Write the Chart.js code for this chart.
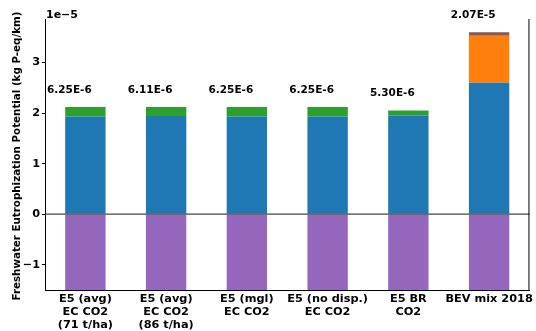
<!DOCTYPE html>
<html>
<head>
<meta charset="utf-8">
<script src="https://cdn.jsdelivr.net/npm/chart.js@4.4.0/dist/chart.umd.min.js"></script>
<style>
  html, body { margin: 0; padding: 0; background: #fff; }
  #wrap { width: 536px; height: 331px; position: relative; }
</style>
</head>
<body>
<div id="wrap"><canvas id="chart"></canvas></div>
<script>
// values in units of 1e-5 kg P-eq/km
const categories = [
  ['E5 (avg)', 'EC CO2', '(71 t/ha)'],
  ['E5 (avg)', 'EC CO2', '(86 t/ha)'],
  ['E5 (mgl)', 'EC CO2'],
  ['E5 (no disp.)', 'EC CO2'],
  ['E5 BR', 'CO2'],
  ['BEV mix 2018']
];
const blueVals = [1.93, 1.94, 1.93, 1.93, 1.95, 2.60];
const greenVals = [0.19, 0.18, 0.19, 0.19, 0.10, 0];
const orangeVals = [0, 0, 0, 0, 0, 0.93];
const brownVals = [0, 0, 0, 0, 0, 0.07];
const purpleVals = [-1.50, -1.53, -1.50, -1.50, -1.52, -1.53];
const netLabels = ['6.25E-6', '6.11E-6', '6.25E-6', '6.25E-6', '5.30E-6', '2.07E-5'];
const yTicks = [-1, 0, 1, 2, 3];

const FONT = "'DejaVu Sans', sans-serif";

const extras = {
  id: 'extras',
  afterDatasetsDraw(chart) {
    const ctx = chart.ctx;
    const a = chart.chartArea;
    const x = chart.scales.x;
    const y = chart.scales.y;
    ctx.save();
    // zero line
    const y0 = y.getPixelForValue(0);
    ctx.strokeStyle = '#444';
    ctx.lineWidth = 1.2;
    ctx.beginPath();
    ctx.moveTo(a.left, y0);
    ctx.lineTo(a.right, y0);
    ctx.stroke();
    // right spine
    ctx.strokeStyle = '#000';
    ctx.lineWidth = 1;
    ctx.beginPath();
    ctx.moveTo(a.right - 0.5, a.top);
    ctx.lineTo(a.right - 0.5, a.bottom);
    ctx.stroke();
    // net value labels
    ctx.fillStyle = '#000';
    ctx.font = 'bold 10.5px ' + FONT;
    ctx.textAlign = 'center';
    ctx.textBaseline = 'middle';
    netLabels.forEach((lab, i) => {
      const top = blueVals[i] + greenVals[i] + orangeVals[i] + brownVals[i];
      ctx.fillText(lab, x.getPixelForValue(i) - 16, y.getPixelForValue(top) - 17);
    });
    // offset text
    ctx.font = 'bold 11px ' + FONT;
    ctx.textAlign = 'left';
    ctx.textBaseline = 'alphabetic';
    ctx.fillText('1e\u22125', a.left + 1, 18);
    // y axis title
    ctx.translate(17, 156);
    ctx.rotate(-Math.PI / 2);
    ctx.font = 'bold 10.3px ' + FONT;
    ctx.textAlign = 'center';
    ctx.textBaseline = 'middle';
    ctx.fillText('Freshwater Eutrophization Potential (kg P-eq/km)', 0, 0);
    ctx.restore();
  }
};

const ds = (data, color) => ({
  data: data,
  backgroundColor: color,
  borderWidth: 0,
  barPercentage: 0.5,
  categoryPercentage: 1
});

new Chart(document.getElementById('chart'), {
  type: 'bar',
  data: {
    labels: categories,
    datasets: [
      ds(blueVals, '#1f77b4'),
      ds(greenVals, '#2ca02c'),
      ds(orangeVals, '#ff7f0e'),
      ds(brownVals, '#8c564b'),
      ds(purpleVals, '#9467bd')
    ]
  },
  options: {
    responsive: true,
    maintainAspectRatio: false,
    animation: false,
    layout: { padding: { left: 0, top: 19, right: 3, bottom: 0 } },
    plugins: { legend: { display: false }, tooltip: { enabled: false } },
    scales: {
      x: {
        stacked: true,
        grid: { display: false, drawTicks: false },
        border: { display: true, color: '#000', width: 1 },
        ticks: {
          color: '#000',
          padding: 3,
          maxRotation: 0,
          autoSkip: false,
          font: { family: FONT, size: 11.3, weight: 'bold', lineHeight: 1.12 }
        },
        afterFit(scale) { scale.height = 41; }
      },
      y: {
        stacked: true,
        min: -1.5,
        max: 3.86,
        grid: { drawOnChartArea: false, drawTicks: true, tickLength: 3, color: '#000' },
        border: { display: true, color: '#000', width: 1 },
        ticks: {
          color: '#000',
          padding: 2,
          font: { family: FONT, size: 11.3, weight: 'bold' },
          callback: v => String(v).replace('-', '\u2212')
        },
        afterBuildTicks(scale) { scale.ticks = yTicks.map(v => ({ value: v })); },
        afterFit(scale) { scale.width = 45; }
      }
    }
  },
  plugins: [extras]
});
</script>
</body>
</html>
